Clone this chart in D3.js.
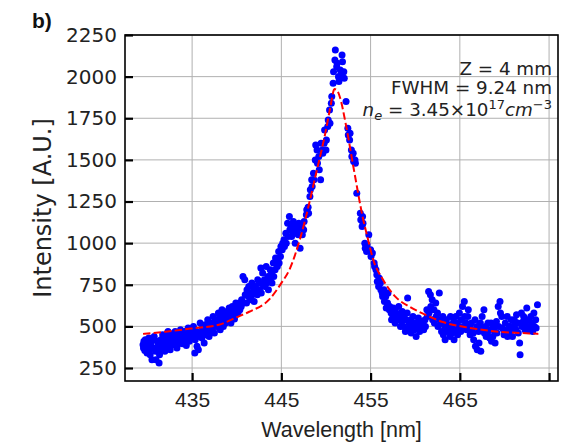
<!DOCTYPE html>
<html><head><meta charset="utf-8">
<script src="https://cdn.jsdelivr.net/npm/d3@7"></script>
<style>body{margin:0;background:#fff} svg{display:block}</style>
</head><body>
<svg id="chart" width="569" height="446"></svg>
<script>
const xTicks = [435, 445, 455, 465, 475];
const xTickLabels = ["435", "445", "455", "465", ""];
const yTicks = [250, 500, 750, 1000, 1250, 1500, 1750, 2000, 2250];
const annotationLines = ["Z = 4 mm", "FWHM = 9.24 nm"];

const wavelength = [
 429.50,429.55,429.60,429.70,429.75,429.90,429.95,430.10,430.15,430.20,430.30,430.35,430.50,430.55,430.70,430.75,430.90,430.95,431.10,431.15,431.30,431.35,431.50,431.55,431.70,431.75,431.90,431.95,432.10,432.15,432.30,432.35,432.50,432.55,432.70,432.75,432.90,432.95,433.10,433.15,433.30,433.35,433.50,433.55,433.70,433.75,433.90,433.95,434.10,434.15,434.30,434.35,434.50,434.55,434.70,434.75,434.90,434.95,
 435.10,435.15,435.30,435.35,435.50,435.55,435.70,435.75,435.90,435.95,436.10,436.15,436.30,436.35,436.50,436.55,436.70,436.75,436.90,436.95,437.10,437.15,437.30,437.35,437.50,437.55,437.70,437.75,437.90,437.95,438.10,438.15,438.30,438.35,438.50,438.55,438.70,438.75,438.90,438.95,439.10,439.15,439.30,439.35,439.50,439.55,439.70,439.75,439.90,439.95,
 440.10,440.15,440.30,440.35,440.50,440.55,440.70,440.75,440.90,440.95,441.10,441.15,441.30,441.35,441.50,441.55,441.70,441.75,441.90,441.95,442.10,442.15,442.30,442.35,442.50,442.55,442.70,442.75,442.90,442.95,443.10,443.15,443.30,443.35,443.50,443.55,443.70,443.75,443.90,443.95,444.10,444.15,444.30,444.35,444.50,444.55,444.70,444.75,444.90,444.95,
 445.10,445.15,445.30,445.35,445.50,445.55,445.70,445.75,445.90,445.95,446.10,446.15,446.30,446.35,446.50,446.55,446.70,446.75,446.90,446.95,447.10,447.15,447.30,447.35,447.50,447.55,
 447.80,447.85,448.00,448.05,448.20,448.25,448.40,448.45,448.60,448.65,448.80,448.85,449.00,449.05,449.20,449.25,449.40,449.45,449.60,449.65,449.80,449.85,450.00,450.05,450.20,450.25,450.40,450.45,450.60,450.65,450.80,450.85,451.00,451.05,451.20,451.25,451.40,451.45,451.60,451.65,451.80,451.85,452.00,452.05,
 452.25,452.45,452.50,452.65,452.70,452.85,452.90,453.05,453.10,453.25,453.30,453.45,453.85,453.90,454.05,454.10,454.15,454.35,454.40,454.55,454.60,454.80,455.00,455.05,455.20,455.40,455.45,455.60,455.70,455.75,455.90,455.95,456.10,456.15,456.30,456.35,456.50,456.55,456.70,456.75,456.90,456.95,
 457.10,457.15,457.30,457.35,457.50,457.55,457.70,457.75,457.90,457.95,458.10,458.15,458.30,458.35,458.50,458.55,458.70,458.75,458.90,458.95,459.10,459.15,459.30,459.35,459.50,459.55,459.70,459.75,459.90,459.95,460.10,460.15,460.30,460.35,460.50,460.55,460.70,460.75,460.90,460.95,461.10,461.15,461.30,461.35,461.50,461.55,461.70,461.75,461.90,461.95,462.10,462.15,462.30,462.35,462.50,462.55,462.70,462.75,462.90,462.95,
 463.10,463.15,463.30,463.35,463.50,463.55,463.70,463.75,463.90,463.95,464.10,464.15,464.30,464.35,464.50,464.55,464.70,464.75,464.90,464.95,465.10,465.15,465.30,465.35,465.50,465.55,465.70,465.75,465.90,465.95,466.10,466.15,466.30,466.35,466.50,466.55,466.70,466.75,466.90,466.95,467.10,467.15,467.30,467.35,467.50,467.55,467.70,467.75,467.90,467.95,468.10,468.15,468.30,468.35,468.50,468.55,468.70,468.75,468.90,468.95,469.10,469.15,469.30,469.35,469.50,469.55,469.70,469.75,469.90,469.95,470.10,470.15,470.30,470.35,470.50,470.55,470.70,470.75,470.90,470.95,471.10,471.15,471.30,471.35,471.50,471.55,471.70,471.75,471.90,471.95,472.10,472.15,472.30,472.35,472.50,472.55,472.70,472.75,472.90,472.95,473.10,473.15,473.30,473.35,473.50,473.55,473.70
];
const intensity = [
 390,370,410,355,420,380,340,400,430,360,330,395,300,415,370,440,350,300,410,380,280,330,420,360,450,390,405,350,440,380,470,420,395,360,430,455,390,410,470,440,370,420,455,400,480,430,395,445,420,470,460,385,440,490,410,465,485,430,
 450,500,340,420,470,380,360,440,520,460,430,490,470,400,510,450,480,540,440,500,520,470,490,560,460,530,540,500,510,580,560,480,530,600,500,570,550,520,590,560,540,610,580,520,620,560,600,545,640,580,
 610,580,640,600,620,660,800,640,780,690,640,720,680,740,700,660,760,690,720,650,740,700,690,780,760,720,850,700,820,750,780,740,860,760,800,720,780,840,820,760,880,800,840,910,900,860,950,880,920,980,
 960,1000,1020,980,1060,1000,1120,1040,1160,1080,1100,1040,1060,1130,1080,1000,1100,1060,1050,1120,970,1090,1100,1050,1080,1130,
 1170,1200,1215,1180,1280,1320,1380,1340,1420,1380,1500,1590,1560,1480,1520,1440,1380,1600,1560,1540,1600,1680,1560,1620,1700,1740,1800,1720,1840,1880,1960,2030,2100,2160,2060,2080,2000,1970,2040,2010,2130,2090,2030,1990,
 1850,1690,1650,1620,1660,1560,1520,1540,1490,1500,1480,1300,1180,1140,1100,1160,1120,1000,970,950,990,1050,960,920,940,880,860,840,810,770,740,790,760,720,700,680,720,650,680,610,640,700,
 600,620,580,540,560,610,600,520,580,550,540,620,570,500,530,590,500,560,470,540,580,670,520,490,540,460,510,560,480,520,440,500,500,550,470,530,530,490,510,480,540,500,600,560,710,580,690,620,660,540,600,520,640,560,580,500,700,540,520,470,
 560,450,500,420,540,470,480,510,440,560,500,460,530,420,480,560,520,450,500,580,470,540,620,500,650,560,520,480,560,600,500,450,520,480,460,420,540,380,500,360,470,400,520,350,560,490,600,460,500,440,460,520,480,430,520,410,440,500,470,400,530,460,620,500,650,580,560,490,480,450,520,470,560,440,470,500,500,540,440,480,540,510,480,570,520,460,400,330,580,500,530,560,480,520,610,500,540,480,500,560,520,470,580,500,540,490,630
];

const fitWavelength = [429.5,432.0,435.0,438.0,440.3,441.4,443.7,445.0,445.9,447.2,448.9,450.0,450.5,450.95,451.2,451.6,452.2,453.2,454.1,454.7,455.3,456.4,457.8,459.4,461.2,463.1,466.0,469.4,472.8,473.8];
const fitIntensity  = [455,468,488,510,562,588,665,760,840,1045,1420,1680,1820,1925,1920,1870,1720,1420,1160,1025,900,780,677,617,568,526,492,468,458,455];

const plot = {left:125, top:35, right:558, bottom:381};
const x = d3.scaleLinear().domain([427.48, 476.0]).range([plot.left, plot.right]);
const y = d3.scaleLinear().domain([172, 2250]).range([plot.bottom, plot.top]);
const svg = d3.select("#chart");
const textColor = "#222";

// grid
svg.append("g").selectAll("line").data(xTicks).join("line")
  .attr("x1", d => x(d)).attr("x2", d => x(d))
  .attr("y1", plot.top).attr("y2", plot.bottom)
  .attr("stroke", "#b0b0b0").attr("stroke-width", 1);
svg.append("g").selectAll("line").data(yTicks).join("line")
  .attr("x1", plot.left).attr("x2", plot.right)
  .attr("y1", d => y(d)).attr("y2", d => y(d))
  .attr("stroke", "#b0b0b0").attr("stroke-width", 1);

svg.append("clipPath").attr("id", "clip").append("rect")
  .attr("x", plot.left).attr("y", plot.top)
  .attr("width", plot.right - plot.left).attr("height", plot.bottom - plot.top);

const n = Math.min(wavelength.length, intensity.length);
const pts = d3.range(n).map(i => [wavelength[i], intensity[i]]);
svg.append("g").attr("clip-path", "url(#clip)").selectAll("circle").data(pts).join("circle")
  .attr("cx", d => x(d[0])).attr("cy", d => y(d[1])).attr("r", 3.5)
  .attr("fill", "#0000ff");

const fitPts = fitWavelength.map((w, i) => [w, fitIntensity[i]]);
svg.append("path").datum(fitPts)
  .attr("clip-path", "url(#clip)")
  .attr("d", d3.line().x(d => x(d[0])).y(d => y(d[1])).curve(d3.curveMonotoneX))
  .attr("fill", "none").attr("stroke", "#ff0000").attr("stroke-width", 2)
  .attr("stroke-dasharray", "7.4,3.2");

// axes
const xAxis = d3.axisBottom(x).tickValues(xTicks).tickSize(-8).tickPadding(11)
  .tickFormat((d, i) => xTickLabels[i]);
const gx = svg.append("g").attr("transform", `translate(0,${plot.bottom})`).call(xAxis);
gx.select(".domain").remove();
gx.selectAll(".tick line").attr("stroke", "#000").attr("stroke-width", 2.2);
gx.selectAll(".tick text").attr("font-family", "'Liberation Sans', Arial, sans-serif")
  .attr("font-size", 21).attr("fill", textColor);

const yAxis = d3.axisLeft(y).tickValues(yTicks).tickSize(-8).tickPadding(8)
  .tickFormat(d3.format("d"));
const gy = svg.append("g").attr("transform", `translate(${plot.left},0)`).call(yAxis);
gy.select(".domain").remove();
gy.selectAll(".tick line").attr("stroke", "#000").attr("stroke-width", 2.2);
gy.selectAll(".tick text").attr("font-family", "'DejaVu Sans', sans-serif")
  .attr("font-size", 20).attr("fill", textColor);

// frame
svg.append("rect").attr("x", plot.left).attr("y", plot.top)
  .attr("width", plot.right - plot.left).attr("height", plot.bottom - plot.top)
  .attr("fill", "none").attr("stroke", "#000").attr("stroke-width", 1.6);

// labels
svg.append("text").attr("x", (plot.left + plot.right) / 2).attr("y", 437)
  .attr("text-anchor", "middle").attr("font-family", "'Liberation Sans', Arial, sans-serif")
  .attr("font-size", 21.5).attr("fill", textColor).text("Wavelength [nm]");
svg.append("text").attr("transform", `translate(51,${(plot.top + plot.bottom) / 2}) rotate(-90)`)
  .attr("text-anchor", "middle").attr("font-family", "'DejaVu Sans', sans-serif")
  .attr("font-size", 24).attr("fill", textColor).text("Intensity [A.U.]");
svg.append("text").attr("x", 32).attr("y", 28)
  .attr("font-family", "'Liberation Sans', Arial, sans-serif").attr("font-weight", "bold")
  .attr("font-size", 21).attr("fill", "#111").text("b)");

// annotation
const ann = svg.append("g").attr("font-family", "'DejaVu Sans', sans-serif")
  .attr("font-size", 18.3).attr("fill", textColor).attr("text-anchor", "end");
ann.append("text").attr("x", 552).attr("y", 75).text(annotationLines[0]);
ann.append("text").attr("x", 552).attr("y", 94).text(annotationLines[1]);
const ne = ann.append("text").attr("x", 552).attr("y", 116);
ne.append("tspan").attr("font-style", "italic").text("n");
ne.append("tspan").attr("font-style", "italic").attr("font-size", 13).attr("dy", 4).text("e");
ne.append("tspan").attr("dy", -4).text(" = 3.45×10");
ne.append("tspan").attr("font-size", 13).attr("dy", -7).text("17");
ne.append("tspan").attr("font-style", "italic").attr("dy", 7).text("cm");
ne.append("tspan").attr("font-size", 13).attr("dy", -7).text("−3");
</script>
</body></html>
